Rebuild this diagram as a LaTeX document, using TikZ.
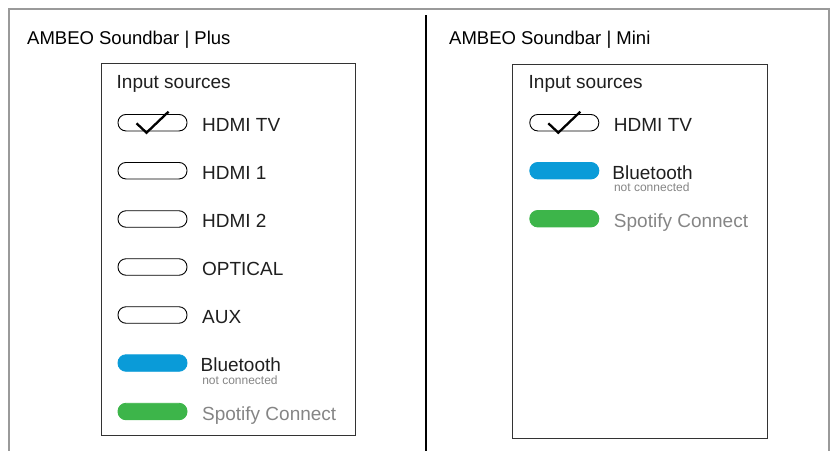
\documentclass[tikz,border=0pt]{standalone}
\usepackage{fontspec}
\setmainfont{Liberation Sans}
\usepackage{xcolor}
\usepackage{tikz}
\usetikzlibrary{positioning, calc}
\definecolor{btblue}{HTML}{0A9BD8}
\definecolor{spgreen}{HTML}{3DB54A}
\definecolor{framegray}{HTML}{9A9A9A}
\definecolor{txtgray}{HTML}{858585}
\begin{document}
\begin{tikzpicture}[x=1pt, y=-1pt,
  ttl/.style={font=\fontsize{18.5}{20}\selectfont, anchor=base west, inner sep=0pt},
  lbl/.style={font=\fontsize{19}{21}\selectfont, inner sep=0pt,
              text height=17.4pt, text depth=0pt, text=black!88},
  sub/.style={font=\fontsize{12}{13}\selectfont, inner sep=0pt, text=txtgray},
  pill/.style={draw, line width=0.9pt, rounded corners=8pt,
               minimum width=69pt, minimum height=16.5pt, inner sep=0pt},
  bpill/.style={pill, draw=btblue, fill=btblue},
  gpill/.style={pill, draw=spgreen, fill=spgreen},
  panel/.style={draw=black!80, line width=0.9pt, inner sep=0pt},
  tick/.style={line width=2.3pt, line join=miter},
]
\useasboundingbox (0,0) rectangle (834,450);

% ---- Outer frame and divider -----------------------------------------------
\draw[framegray, line width=2pt] (8.5,452) -- (8.5,8.5) -- (829,8.5) -- (829,452);
\draw[black, line width=1.2pt] (426,15) -- (426,452);

% ---- Plus (left) -----------------------------------------------------------
\node[ttl] (plusTitle) at (27,44) {AMBEO Soundbar | Plus};
\node[panel, minimum width=254pt, minimum height=372pt] (plusBox) at (228,249) {};
\node[lbl, anchor=west] (plusHead) at (116.5,79.5) {Input sources};

\node[pill] (tvL) at (152.5,122.7) {};
\node[lbl, right=14.5pt of tvL] (tvLtxt) {HDMI TV};
\draw[tick] ($(tvL)+(-16,0.6)$) -- ($(tvL)+(-6,10)$) -- ($(tvL)+(16,-11)$);

\node[pill] (h1L) at (152.5,170.7) {};
\node[lbl, right=14.5pt of h1L] (h1Ltxt) {HDMI 1};

\node[pill] (h2L) at (152.5,219) {};
\node[lbl, right=14.5pt of h2L] (h2Ltxt) {HDMI 2};

\node[pill] (optL) at (152.5,267) {};
\node[lbl, right=14.5pt of optL] (optLtxt) {OPTICAL};

\node[pill] (auxL) at (152.5,315) {};
\node[lbl, right=14.5pt of auxL] (auxLtxt) {AUX};

\node[bpill] (btL) at (152.5,363) {};
\node[lbl, right=13pt of btL] (btLtxt) {Bluetooth};
\node[sub, anchor=base west] (btLsub) at ($(btLtxt.south west)+(1.6,12.2)$) {not connected};

\node[gpill] (spL) at (152.5,411.5) {};
\node[lbl, right=14.5pt of spL, text=txtgray] (spLtxt) {Spotify Connect};

% ---- Mini (right) ----------------------------------------------------------
\node[ttl] (miniTitle) at (449,44) {AMBEO Soundbar | Mini};
\node[panel, minimum width=255pt, minimum height=374pt] (miniBox) at (639.5,251) {};
\node[lbl, anchor=west] (miniHead) at (528.5,79.5) {Input sources};

\node[pill] (tvR) at (564.3,122.7) {};
\node[lbl, right=14.5pt of tvR] (tvRtxt) {HDMI TV};
\draw[tick] ($(tvR)+(-16,0.6)$) -- ($(tvR)+(-6,10)$) -- ($(tvR)+(16,-11)$);

\node[bpill] (btR) at (564.3,170.7) {};
\node[lbl, right=13pt of btR] (btRtxt) {Bluetooth};
\node[sub, anchor=base west] (btRsub) at ($(btRtxt.south west)+(1.6,12.2)$) {not connected};

\node[gpill] (spR) at (564.3,218.7) {};
\node[lbl, right=14.5pt of spR, text=txtgray] (spRtxt) {Spotify Connect};

\end{tikzpicture}
\end{document}
